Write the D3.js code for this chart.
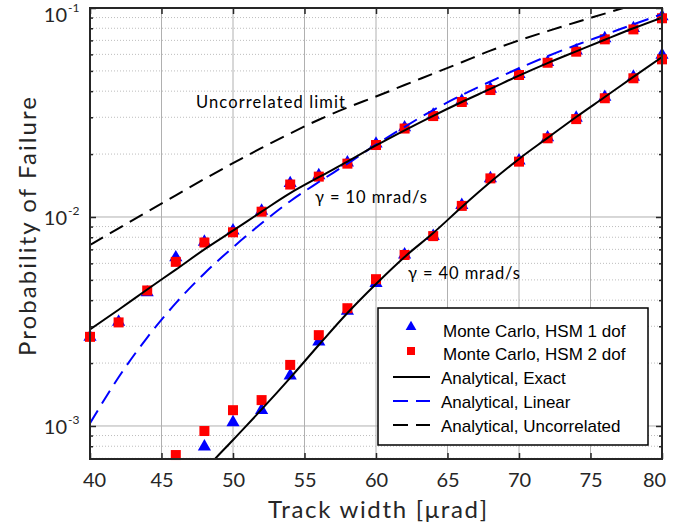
<!DOCTYPE html>
<html>
<head>
<meta charset="utf-8">
<script src="https://cdn.jsdelivr.net/npm/d3@7"></script>
<style>
  body { margin: 0; background: #fff; }
  svg { display: block; }
</style>
</head>
<body>
<svg id="chart" width="692" height="529"></svg>
<script>
// ---- data ----
const xTicks = [40, 45, 50, 55, 60, 65, 70, 75, 80];
const yTickExp = [-3, -2, -1];

// gamma = 10 mrad/s
const xMC10 = [40, 42, 44, 46, 48, 50, 52, 54, 56, 58, 60, 62, 64, 66, 68, 70, 72, 74, 76, 78, 80];
const tri10 = [2.67e-3, 3.15e-3, 4.35e-3, 6.4e-3, 7.6e-3, 8.6e-3, 1.07e-2, 1.45e-2, 1.58e-2, 1.82e-2,
               2.24e-2, 2.68e-2, 3.08e-2, 3.6e-2, 4.1e-2, 4.82e-2, 5.5e-2, 6.25e-2, 7.15e-2, 8.0e-2, 9.1e-2];
const sq10  = [2.67e-3, 3.13e-3, 4.45e-3, 6.1e-3, 7.55e-3, 8.45e-3, 1.06e-2, 1.43e-2, 1.56e-2, 1.8e-2,
               2.21e-2, 2.65e-2, 3.04e-2, 3.55e-2, 4.05e-2, 4.78e-2, 5.47e-2, 6.18e-2, 7.08e-2, 7.9e-2, 8.93e-2];

// gamma = 40 mrad/s
const xTri40 = [48, 50, 52, 54, 56, 58, 60, 62, 64, 66, 68, 70, 72, 74, 76, 78, 80];
const tri40  = [7.96e-4, 1.04e-3, 1.19e-3, 1.74e-3, 2.53e-3, 3.55e-3, 4.82e-3, 6.6e-3, 8.1e-3,
                1.14e-2, 1.53e-2, 1.86e-2, 2.4e-2, 2.98e-2, 3.75e-2, 4.68e-2, 5.96e-2];
const xSq40 = [46, 48, 50, 52, 54, 56, 58, 60, 62, 64, 66, 68, 70, 72, 74, 76, 78, 80];
const sq40  = [7.26e-4, 9.46e-4, 1.19e-3, 1.33e-3, 1.96e-3, 2.72e-3, 3.66e-3, 5.04e-3, 6.58e-3,
               8.1e-3, 1.13e-2, 1.53e-2, 1.84e-2, 2.38e-2, 2.94e-2, 3.7e-2, 4.61e-2, 5.68e-2];

// analytical curves
const xCurve = [40, 42, 44, 46, 48, 50, 52, 54, 56, 58, 60, 62, 64, 66, 68, 70, 72, 74, 76, 78, 80];
const exact10 = [2.9e-3, 3.6e-3, 4.5e-3, 5.6e-3, 7.0e-3, 8.6e-3, 1.06e-2, 1.3e-2, 1.55e-2, 1.84e-2,
                 2.2e-2, 2.6e-2, 3.05e-2, 3.55e-2, 4.1e-2, 4.75e-2, 5.45e-2, 6.2e-2, 7.05e-2, 8.0e-2, 9.0e-2];
const linear10 = [1.03e-3, 1.71e-3, 2.65e-3, 3.87e-3, 5.37e-3, 7.16e-3, 9.33e-3, 1.19e-2, 1.47e-2, 1.8e-2,
                  2.22e-2, 2.7e-2, 3.25e-2, 3.83e-2, 4.45e-2, 5.15e-2, 5.88e-2, 6.65e-2, 7.45e-2, 8.35e-2, 9.35e-2];
const uncorr = [7.35e-3, 8.83e-3, 1.06e-2, 1.27e-2, 1.52e-2, 1.81e-2, 2.14e-2, 2.51e-2, 2.92e-2, 3.34e-2,
                3.77e-2, 4.28e-2, 4.85e-2, 5.5e-2, 6.25e-2, 7.0e-2, 7.75e-2, 8.55e-2, 9.4e-2, 0.1035, 0.114];
const xExact40 = [46, 48, 50, 52, 54, 56, 58, 60, 62, 64, 66, 68, 70, 72, 74, 76, 78, 80];
const exact40 = [4.0e-4, 6.1e-4, 8.57e-4, 1.2e-3, 1.7e-3, 2.44e-3, 3.47e-3, 4.78e-3, 6.44e-3, 8.38e-3,
                 1.116e-2, 1.469e-2, 1.896e-2, 2.39e-2, 3.01e-2, 3.75e-2, 4.68e-2, 5.83e-2];

const legendLabels = ["Monte Carlo, HSM 1 dof", "Monte Carlo, HSM 2 dof", "Analytical, Exact",
                      "Analytical, Linear", "Analytical, Uncorrelated"];

// ---- layout ----
const svg = d3.select("#chart");
const pL = 90, pR = 662, pT = 8, pB = 459;
const ink = "#262626";
const font = "Lato, 'Open Sans', sans-serif";
const dashPat = "15,8";

const x = d3.scaleLinear().domain([40, 80]).range([pL, pR]);
const y = d3.scaleLog().domain([Math.pow(10, -3.158), 0.1]).range([pB, pT]);

svg.append("defs").append("clipPath").attr("id", "plotclip")
  .append("rect").attr("x", pL).attr("y", pT).attr("width", pR - pL).attr("height", pB - pT);

// minor y values
const minorY = [];
for (let e = -4; e <= -2; e++) {
  for (let m = 2; m <= 9; m++) {
    const v = m * Math.pow(10, e);
    if (v >= y.domain()[0] && v <= y.domain()[1]) minorY.push(v);
  }
}
const majorY = yTickExp.map(e => Math.pow(10, e));

// grid
const grid = svg.append("g");
grid.selectAll(".minor").data(minorY).enter().append("line")
  .attr("x1", pL).attr("x2", pR)
  .attr("y1", d => y(d)).attr("y2", d => y(d))
  .attr("stroke", "#bdbdbd").attr("stroke-width", 1).attr("stroke-dasharray", "1,2");
grid.selectAll(".majy").data(majorY).enter().append("line")
  .attr("x1", pL).attr("x2", pR)
  .attr("y1", d => y(d)).attr("y2", d => y(d))
  .attr("stroke", "#b0b0b0").attr("stroke-width", 1);
grid.selectAll(".majx").data(xTicks).enter().append("line")
  .attr("x1", d => x(d)).attr("x2", d => x(d))
  .attr("y1", pT).attr("y2", pB)
  .attr("stroke", "#b0b0b0").attr("stroke-width", 1);

// markers
const triangle = d3.symbol().type(d3.symbolTriangle).size(75);
const plot = svg.append("g");

function drawTriangles(xs, ys) {
  plot.append("g").selectAll("path").data(xs.map((d, i) => [d, ys[i]])).enter().append("path")
    .attr("d", triangle)
    .attr("transform", d => `translate(${x(d[0])},${y(d[1])})`)
    .attr("fill", "#0000ff");
}
function drawSquares(xs, ys) {
  plot.append("g").selectAll("rect").data(xs.map((d, i) => [d, ys[i]])).enter().append("rect")
    .attr("x", d => x(d[0]) - 5).attr("y", d => y(d[1]) - 5)
    .attr("width", 10).attr("height", 10)
    .attr("fill", "#ff0000");
}
drawTriangles(xMC10, tri10);
drawTriangles(xTri40, tri40);
drawSquares(xMC10, sq10);
drawSquares(xSq40, sq40);

// curves
const line = d3.line().x(d => x(d[0])).y(d => y(d[1])).curve(d3.curveMonotoneX);
const curves = svg.append("g").attr("clip-path", "url(#plotclip)");
function drawCurve(xs, ys, color, dash) {
  curves.append("path")
    .datum(xs.map((d, i) => [d, ys[i]]))
    .attr("d", line)
    .attr("fill", "none")
    .attr("stroke", color)
    .attr("stroke-width", 2)
    .attr("stroke-dasharray", dash);
}
drawCurve(xCurve, uncorr, "#000", dashPat);
drawCurve(xCurve, linear10, "#0000ff", dashPat);
drawCurve(xCurve, exact10, "#000", null);
drawCurve(xExact40, exact40, "#000", null);

// axes ticks (inward, on all four sides)
const xb = svg.append("g").attr("transform", `translate(0,${pB})`)
  .call(d3.axisBottom(x).tickValues(xTicks).tickSizeInner(-6).tickSizeOuter(0).tickPadding(14));
const xt = svg.append("g").attr("transform", `translate(0,${pT})`)
  .call(d3.axisTop(x).tickValues(xTicks).tickSizeInner(-6).tickSizeOuter(0).tickFormat(""));
const yl = svg.append("g").attr("transform", `translate(${pL},0)`)
  .call(d3.axisLeft(y).tickValues(majorY).tickSizeInner(-6).tickSizeOuter(0).tickFormat(""));
const yr = svg.append("g").attr("transform", `translate(${pR},0)`)
  .call(d3.axisRight(y).tickValues(majorY).tickSizeInner(-6).tickSizeOuter(0).tickFormat(""));
const ylm = svg.append("g").attr("transform", `translate(${pL},0)`)
  .call(d3.axisLeft(y).tickValues(minorY).tickSizeInner(-3).tickSizeOuter(0).tickFormat(""));
const yrm = svg.append("g").attr("transform", `translate(${pR},0)`)
  .call(d3.axisRight(y).tickValues(minorY).tickSizeInner(-3).tickSizeOuter(0).tickFormat(""));
[xb, xt, yl, yr, ylm, yrm].forEach(g => {
  g.select(".domain").remove();
  g.selectAll(".tick line").attr("stroke", ink).attr("stroke-width", 1.5);
});
xb.selectAll(".tick text")
  .attr("font-family", font).attr("font-size", 20).attr("fill", ink)
  .attr("dx", d => d === 40 ? 4 : (d === 80 ? -8 : 0));

// box
svg.append("rect")
  .attr("x", pL).attr("y", pT).attr("width", pR - pL).attr("height", pB - pT)
  .attr("fill", "none").attr("stroke", ink).attr("stroke-width", 2);

// y tick labels 10^e
const ylab = svg.append("g");
yTickExp.forEach(e => {
  const yy = y(Math.pow(10, e)) + (e === -1 ? 7 : 1);
  ylab.append("text")
    .attr("x", 67).attr("y", yy + 7)
    .attr("text-anchor", "end")
    .attr("font-family", font).attr("font-size", 20).attr("fill", ink)
    .text("10");
  ylab.append("text")
    .attr("x", 68).attr("y", yy - 3)
    .attr("font-family", font).attr("font-size", 12).attr("fill", ink)
    .text("-" + Math.abs(e));
});

// axis titles
svg.append("text")
  .attr("x", 268).attr("y", 518)
  .attr("textLength", 219).attr("lengthAdjust", "spacing")
  .attr("font-family", font).attr("font-size", 24).attr("fill", ink)
  .text("Track width [\u03bcrad]");
svg.append("text")
  .attr("transform", "translate(36,356) rotate(-90)")
  .attr("textLength", 259).attr("lengthAdjust", "spacing")
  .attr("font-family", font).attr("font-size", 24).attr("fill", ink)
  .text("Probability of Failure");

// annotations
const ann = svg.append("g").attr("font-family", font).attr("font-size", 16.5).attr("fill", "#000");
ann.append("text").attr("x", 196).attr("y", 102).attr("dy", "0.35em")
  .attr("textLength", 149).attr("lengthAdjust", "spacing").text("Uncorrelated limit");
ann.append("text").attr("x", 315).attr("y", 197).attr("dy", "0.35em")
  .attr("textLength", 112).attr("lengthAdjust", "spacing").text("\u03b3 = 10 mrad/s");
ann.append("text").attr("x", 408).attr("y", 273).attr("dy", "0.35em")
  .attr("textLength", 112).attr("lengthAdjust", "spacing").text("\u03b3 = 40 mrad/s");

// legend
const lg = svg.append("g");
lg.append("rect").attr("x", 378).attr("y", 308).attr("width", 270).attr("height", 137)
  .attr("fill", "#fff").attr("stroke", "#000").attr("stroke-width", 1.5);
const legRows = [331, 354, 378, 402, 426];
lg.append("path").attr("d", d3.symbol().type(d3.symbolTriangle).size(50))
  .attr("transform", `translate(411,${legRows[0] - 4})`).attr("fill", "#0000ff");
lg.append("rect").attr("x", 407).attr("y", legRows[1] - 7).attr("width", 8).attr("height", 8).attr("fill", "#ff0000");
[[2, "#000", null], [3, "#0000ff", dashPat], [4, "#000", dashPat]].forEach(([i, c, dash]) => {
  lg.append("line").attr("x1", 393).attr("x2", 430).attr("y1", legRows[i] - 1).attr("y2", legRows[i] - 1)
    .attr("stroke", c).attr("stroke-width", 2).attr("stroke-dasharray", dash);
});
lg.selectAll(".lt").data(legendLabels).enter().append("text")
  .attr("x", (d, i) => i < 2 ? 443 : 441)
  .attr("y", (d, i) => legRows[i])
  .attr("dy", "0.35em")
  .attr("font-family", "'Liberation Sans', Arial, sans-serif")
  .attr("font-size", 17).attr("fill", "#000")
  .text(d => d);
</script>
</body>
</html>
